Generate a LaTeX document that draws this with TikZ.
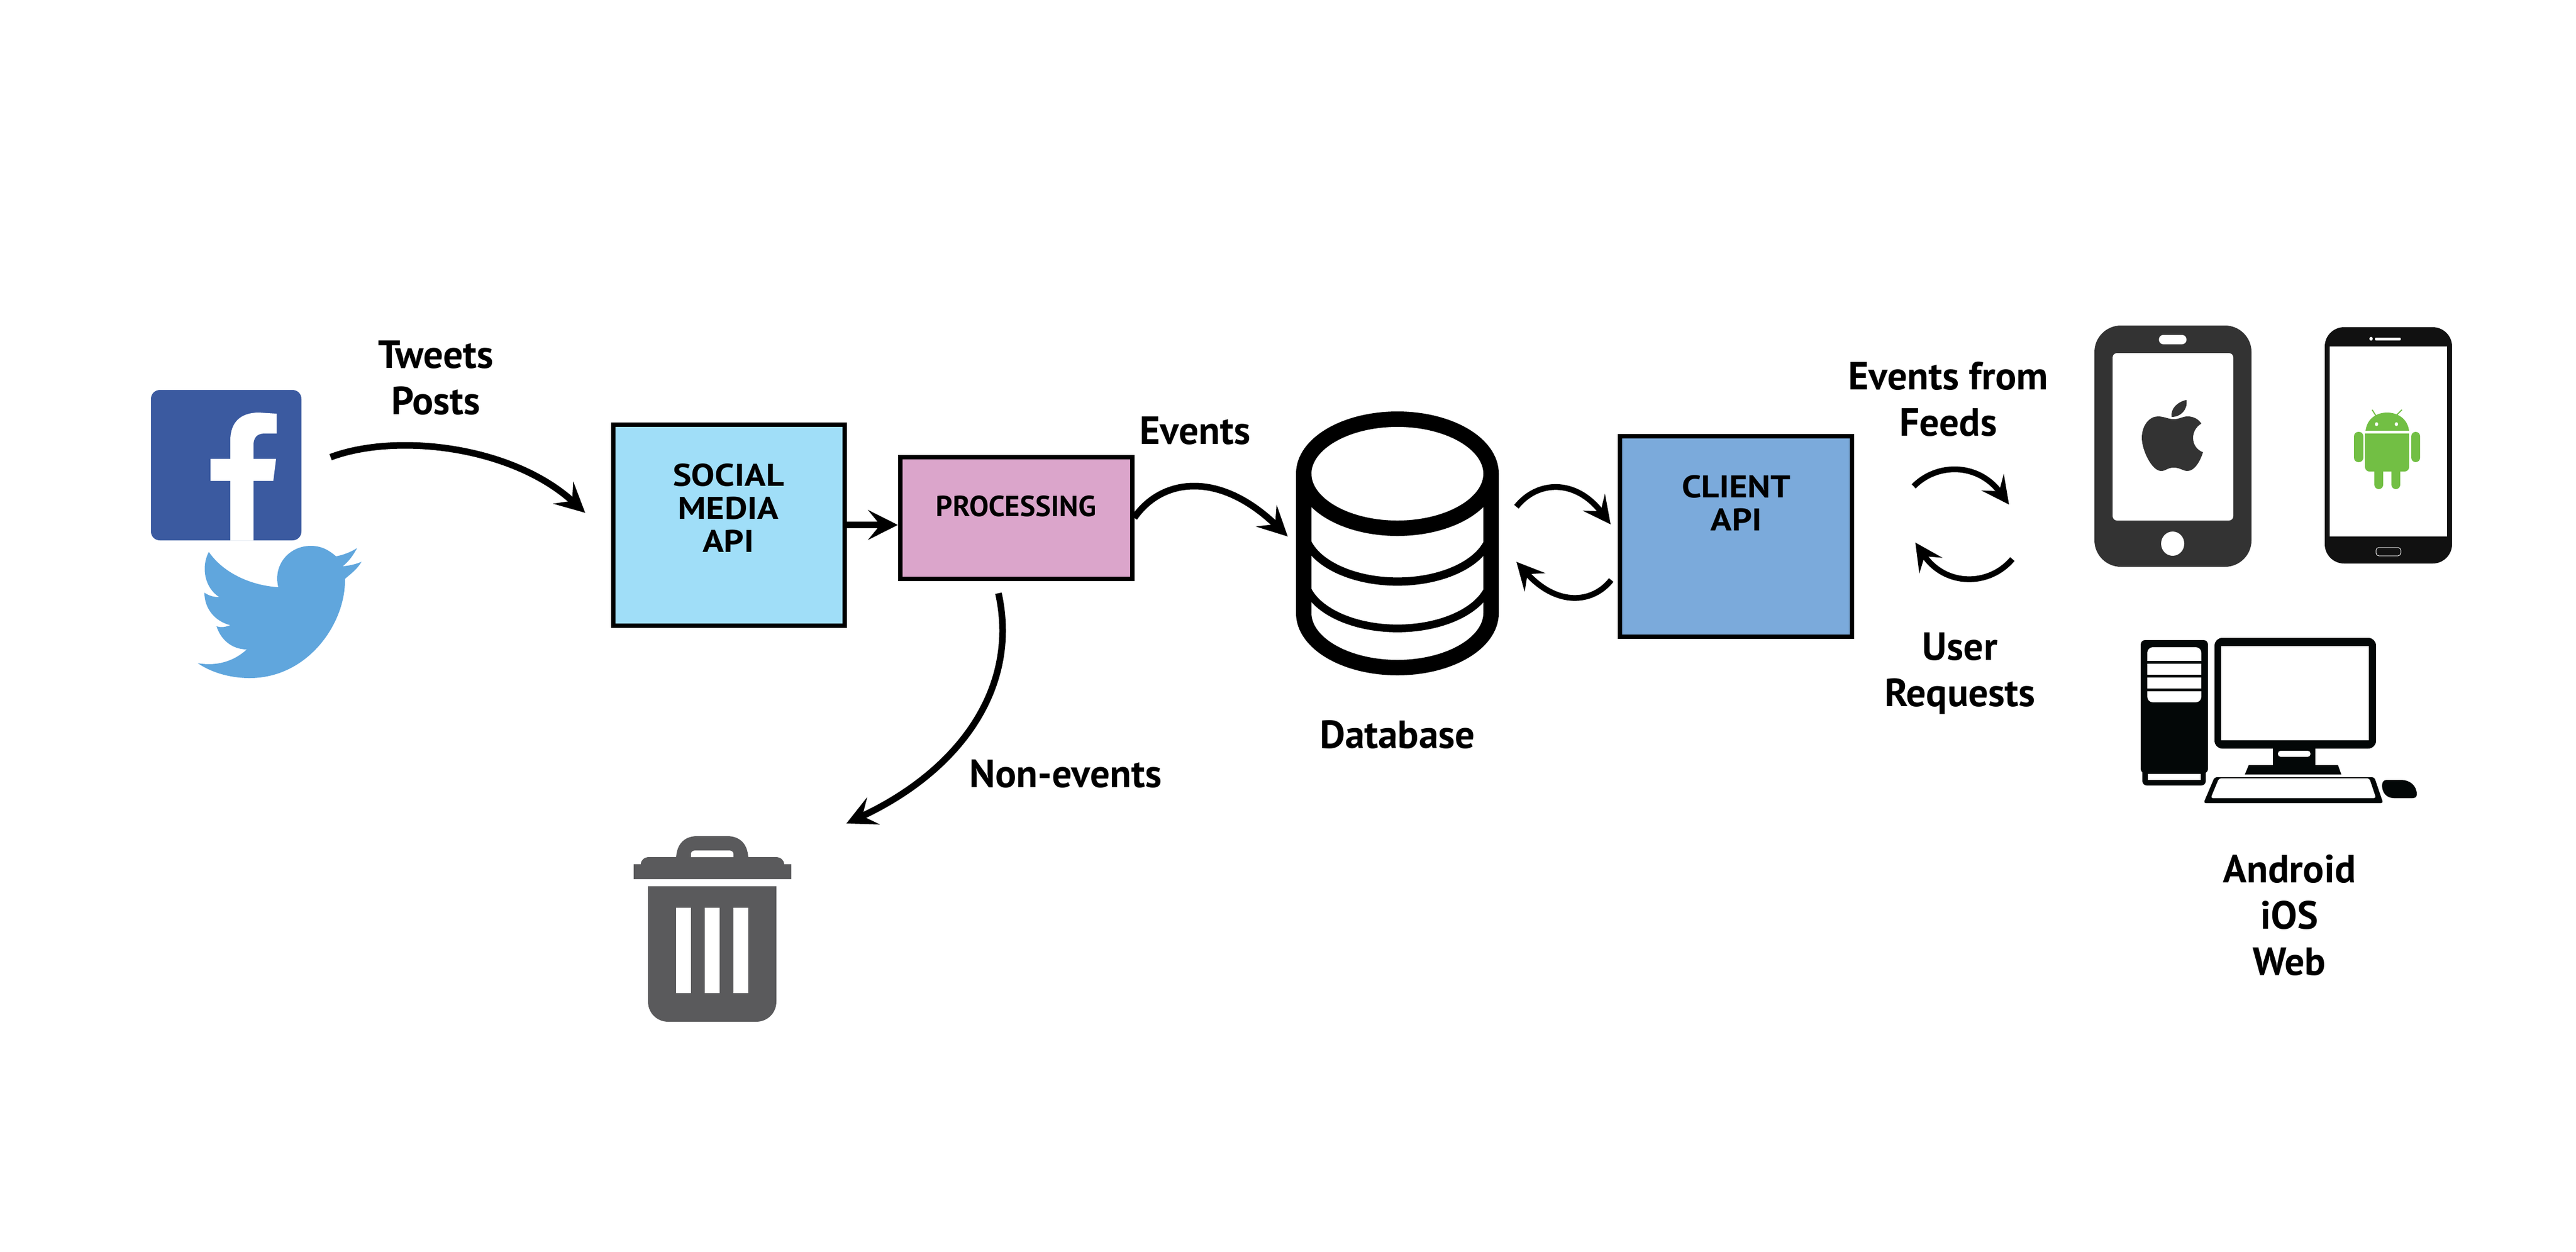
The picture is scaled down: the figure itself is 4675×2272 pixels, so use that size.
\documentclass[tikz,border=0pt]{standalone}
\usepackage{fontspec}
\setmainfont{PT Sans}
\newfontfamily\boxfont{PT Sans}[FakeStretch=1.12]
\usetikzlibrary{arrows.meta}
\definecolor{socialblue}{HTML}{A0DEF8}
\definecolor{processpink}{HTML}{DBA5CB}
\definecolor{clientblue}{HTML}{7BAADB}
\definecolor{fbblue}{HTML}{3B5AA0}
\definecolor{birdblue}{HTML}{60A6DD}
\definecolor{bingrey}{HTML}{5A5A5C}
\definecolor{iphonegrey}{HTML}{333333}
\definecolor{droidblack}{HTML}{111111}
\definecolor{droidgreen}{HTML}{72BF44}
\definecolor{pcblack}{HTML}{030707}
\begin{document}
\begin{tikzpicture}[x=0.1mm,y=-0.1mm,
  boxnode/.style={draw=black,line width=0.8mm,inner sep=0pt},
  boxtext/.style={font=\boxfont\fontsize{16.2}{17}\bfseries\selectfont,align=center,inner sep=0pt},
  labeltext/.style={font=\fontsize{20.3}{23.9}\bfseries\selectfont,align=center,inner sep=0pt},
  flow/.style={line width=1.2mm,-{Stealth[length=5.4mm,width=5.4mm,inset=2.2mm]}},
  smallflow/.style={line width=1.05mm,-{Stealth[length=5mm,width=5mm,inset=2mm]}},
  cylwall/.style={draw=black,line width=2.8mm}]
\useasboundingbox (0,0) rectangle (4675,2272);
\node [boxnode,fill=socialblue,minimum width=42mm,minimum height=36.5mm] (social) at (1323,953) {};
\node [boxnode,fill=processpink,minimum width=42.1mm,minimum height=22.1mm] (processing) at (1844,940) {};
\node [boxnode,fill=clientblue,minimum width=42.1mm,minimum height=36.4mm] (client) at (3150,974) {};
\node [boxtext] (socialtext) at (1322,922) {SOCIAL\\MEDIA\\API};
\node [boxtext,font=\fontsize{15}{17}\bfseries\selectfont] (processingtext) at (1844,919) {PROCESSING};
\node [boxtext] (clienttext) at (3151,913) {CLIENT\\API};
\node [labeltext] (tweetstext) at (791,686) {Tweets\\Posts};
\node [labeltext] (eventstext) at (2169,782) {Events};
\node [labeltext] (nonevents) at (1934,1405) {Non-events};
\node [labeltext] (dbtext) at (2536,1334) {Database};
\node [labeltext] (feedstext) at (3536,725) {Events from\\Feeds};
\node [labeltext] (requeststext) at (3557,1223) {User\\Requests};
\node [labeltext] (platformtext) at (4155,1662) {Android\\iOS\\Web};
\coordinate (tweetsfrom) at (600,830);
\coordinate (tweetsto) at (1062,931);
\coordinate (eventsto) at (2337,974);
\coordinate (trashfrom) at (1812,1077);
\coordinate (trashto) at (1536,1495);
\coordinate (dbout) at (2752,920);
\coordinate (clientin) at (2923,952);
\coordinate (clientout) at (2924,1053);
\coordinate (dbin) at (2752,1020);
\coordinate (feedsfrom) at (3473,883);
\coordinate (feedsto) at (3646,916);
\coordinate (requestsfrom) at (3652,1015);
\coordinate (requeststo) at (3476,985);
\draw [flow] (tweetsfrom) .. controls (720,785) and (930,810) .. (tweetsto);
\draw [flow] (social.east |- 0,953) -- (processing.west |- 0,953);
\draw [flow] (processing.east) .. controls (2110,866) and (2215,856) .. (eventsto);
\draw [flow] (trashfrom) .. controls (1850,1250) and (1740,1400) .. (trashto);
\draw [smallflow] (dbout) .. controls (2790,872) and (2860,869) .. (clientin);
\draw [smallflow] (clientout) .. controls (2890,1096) and (2825,1101) .. (dbin);
\draw [smallflow] (feedsfrom) .. controls (3515,840) and (3590,840) .. (feedsto);
\draw [smallflow] (requestsfrom) .. controls (3610,1065) and (3530,1065) .. (requeststo);
\fill [fbblue,rounded corners=1.6mm] (274,708) rectangle (547,981);
\fill [white] (418,981) -- (418,873) -- (382,873) -- (382,833) -- (418,833) -- (418,800) .. controls (418,765) and (438,749) .. (470,749) -- (502,751) -- (502,787) -- (480,787) .. controls (466,787) and (460,795) .. (460,808) -- (460,833) -- (501,833) -- (496,873) -- (460,873) -- (460,981) -- cycle;
\fill [birdblue] (648,995) .. controls (640,1010) and (632,1020) .. (622,1028) .. controls (635,1027) and (646,1024) .. (656,1020) .. controls (647,1035) and (636,1042) .. (626,1051) .. controls (628,1130) and (560,1231) .. (453,1231) .. controls (420,1231) and (385,1222) .. (359,1204) .. controls (395,1210) and (425,1200) .. (448,1179) .. controls (420,1179) and (400,1160) .. (393,1137) .. controls (402,1140) and (410,1138) .. (418,1135) .. controls (390,1128) and (371,1105) .. (371,1076) .. controls (380,1082) and (388,1084) .. (398,1084) .. controls (372,1068) and (364,1030) .. (379,1002) .. controls (405,1040) and (455,1063) .. (505,1066) .. controls (495,1025) and (525,991) .. (564,991) .. controls (585,991) and (598,1000) .. (610,1010) .. controls (625,1007) and (637,1002) .. (648,995) -- cycle;
\draw [cylwall] (2536,860) ellipse (17mm and 9.9mm);
\draw [cylwall] (2366,860) -- (2366,1113) arc [start angle=180,end angle=360,x radius=17mm,y radius=9.9mm] -- (2706,860);
\draw [black,line width=1.5mm] (2370,979) arc [start angle=168,end angle=12,x radius=17mm,y radius=-9.7mm];
\draw [black,line width=1.4mm] (2370,1064) arc [start angle=168,end angle=12,x radius=17mm,y radius=-9.7mm];
\fill [bingrey] (1163,1569) .. controls (1163,1561) and (1170,1556) .. (1178,1556) -- (1408,1556) .. controls (1416,1556) and (1423,1561) .. (1423,1569) -- (1436,1569) -- (1436,1596) -- (1150,1596) -- (1150,1569) -- cycle;
\fill [bingrey] (1227,1560) .. controls (1227,1535) and (1240,1518) .. (1265,1518) -- (1320,1518) .. controls (1345,1518) and (1358,1535) .. (1358,1560) -- cycle;
\fill [white] (1254,1556) -- (1254,1550) .. controls (1254,1546) and (1258,1544) .. (1262,1544) -- (1323,1544) .. controls (1327,1544) and (1331,1546) .. (1331,1550) -- (1331,1556) -- cycle;
\fill [bingrey] (1176,1609) -- (1409,1609) -- (1409,1818) .. controls (1409,1840) and (1392,1855) .. (1372,1855) -- (1213,1855) .. controls (1193,1855) and (1176,1840) .. (1176,1818) -- cycle;
\foreach \slotx in {1227,1279,1331}
  \fill [white] (\slotx,1648) rectangle (\slotx+27,1803);
\begin{scope}[shift={(-27,-3)}]
\fill [iphonegrey,rounded corners=4.8mm] (3828,594) rectangle (4113,1032);
\fill [white,rounded corners=0.8mm] (3861,644) rectangle (4080,948);
\fill [white,rounded corners=0.8mm] (3945,611) rectangle (3995,628);
\fill [white] (3970,990) ellipse (2.1mm and 2.2mm);
\fill [iphonegrey] (3995,729) .. controls (3978,733) and (3966,745) .. (3968,760) .. controls (3985,760) and (3998,746) .. (3995,729) -- cycle;
\fill [iphonegrey] (3972,764) .. controls (3982,764) and (3988,759) .. (3997,759) .. controls (4008,759) and (4017,764) .. (4022,772) .. controls (4012,778) and (4007,788) .. (4007,798) .. controls (4007,810) and (4014,820) .. (4025,824) .. controls (4020,840) and (4010,858) .. (3997,858) .. controls (3988,858) and (3984,852) .. (3972,852) .. controls (3960,852) and (3958,858) .. (3949,858) .. controls (3932,858) and (3914,820) .. (3914,798) .. controls (3914,775) and (3928,759) .. (3943,759) .. controls (3955,759) and (3962,764) .. (3972,764) -- cycle;
\end{scope}
\begin{scope}[shift={(-26,-3)}]
\fill [droidblack,rounded corners=3.5mm] (4245,597) rectangle (4476,1026);
\fill [white] (4254,632) rectangle (4467,977);
\fill [white] (4329,618) ellipse (0.3mm and 0.35mm);
\fill [white,rounded corners=0.2mm] (4336,616) rectangle (4383,621);
\draw [white,line width=0.1mm,rounded corners=0.5mm] (4338,997) rectangle (4383,1012);
\fill [droidgreen] (4319,785) .. controls (4322,762) and (4340,752) .. (4358,752) .. controls (4376,752) and (4395,762) .. (4398,785) -- cycle;
\draw [droidgreen,line width=0.2mm] (4338,758) -- (4331,747);
\draw [droidgreen,line width=0.2mm] (4374,758) -- (4385,747);
\fill [white] (4339,773) ellipse (0.3mm and 0.35mm);
\fill [white] (4375,773) ellipse (0.3mm and 0.35mm);
\fill [droidgreen,rounded corners=0.8mm] (4318,790) -- (4398,790) -- (4398,859) -- (4318,859) -- cycle;
\fill [droidgreen] (4318,790) rectangle (4398,840);
\fill [droidgreen,rounded corners=0.8mm] (4298,787) rectangle (4315,842);
\fill [droidgreen,rounded corners=0.8mm] (4402,787) rectangle (4418,842);
\fill [droidgreen,rounded corners=0.8mm] (4335,850) rectangle (4351,891);
\fill [droidgreen,rounded corners=0.8mm] (4366,850) rectangle (4382,891);
\end{scope}
\begin{scope}[shift={(-27,-6)}]
\fill [pcblack,rounded corners=0.8mm] (3912,1168) rectangle (4034,1410);
\fill [pcblack,rounded corners=0.8mm] (3915,1395) rectangle (4030,1432);
\fill [white] (3925,1411) rectangle (4021,1422);
\fill [white,rounded corners=1mm] (3924,1181) rectangle (4022,1216);
\fill [pcblack] (3920,1206) rectangle (4026,1211);
\fill [white] (3924,1211) rectangle (4022,1231);
\fill [white] (3924,1236) rectangle (4022,1256);
\fill [white,rounded corners=1mm] (3924,1250) rectangle (4022,1281);
\fill [pcblack] (3920,1256) rectangle (4026,1261);
\fill [pcblack,rounded corners=1.4mm] (4046,1164) rectangle (4339,1365);
\fill [white] (4058,1179) rectangle (4326,1350);
\fill [pcblack] (4152,1360) rectangle (4229,1400);
\fill [white,rounded corners=0.5mm] (4161,1369) rectangle (4220,1380);
\fill [pcblack] (4108,1395) -- (4270,1395) -- (4276,1412) -- (4101,1412) -- cycle;
\fill [pcblack,rounded corners=0.4mm] (4046,1417) -- (4336,1417) -- (4352,1464) -- (4026,1464) -- cycle;
\fill [white,rounded corners=0.4mm] (4054,1419) -- (4327,1419) -- (4339,1455) -- (4039,1455) -- cycle;
\fill [pcblack] (4358,1422) -- (4385,1422) .. controls (4400,1422) and (4413,1432) .. (4413,1448) .. controls (4413,1453) and (4410,1455) .. (4405,1455) -- (4372,1455) .. controls (4358,1455) and (4350,1445) .. (4350,1432) .. controls (4350,1426) and (4353,1422) .. (4358,1422) -- cycle;
\end{scope}
\end{tikzpicture}
\end{document}
